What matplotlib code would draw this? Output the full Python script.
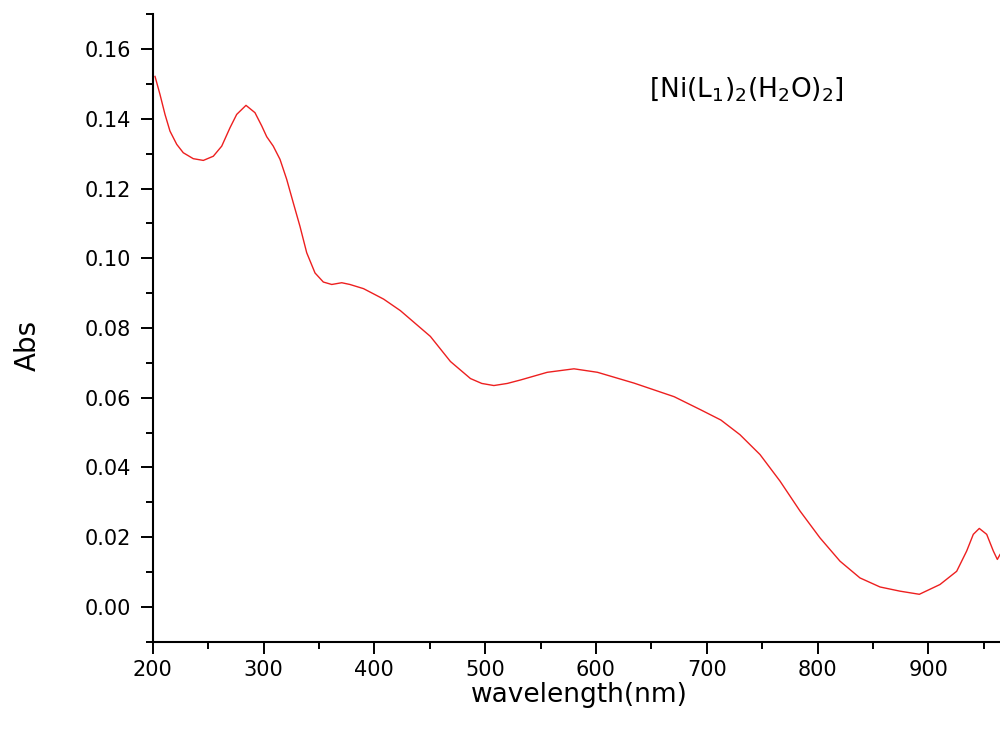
import matplotlib
matplotlib.use("Agg")
import matplotlib.pyplot as plt
from matplotlib.ticker import MultipleLocator

# UV-Vis spectrum
wavelength = [202.1, 206.6, 211.1, 215.6, 221.7, 227.6, 236.6, 245.7, 254.7, 262.3,
              269.8, 275.8, 284.2, 292.3, 298.4, 302.9, 308.8, 314.9, 320.9, 326.9,
              332.9, 339.0, 346.5, 354.0, 361.6, 370.6, 378.0, 390.3, 408.4, 423.5,
              450.6, 468.7, 486.8, 497.0, 507.9, 520.0, 532.0, 556.1, 580.2, 601.4,
              634.4, 670.6, 694.8, 712.8, 730.0, 748.1, 766.1, 784.2, 802.2, 820.3,
              838.3, 856.4, 874.4, 891.9, 910.5, 925.6, 934.6, 940.6, 946.0, 952.7,
              958.7, 962.3, 964.7]
absorb = [0.1522, 0.1470, 0.1413, 0.1365, 0.1327, 0.1303, 0.1286, 0.1281, 0.1293, 0.1322,
          0.1375, 0.1413, 0.1439, 0.1418, 0.1380, 0.1349, 0.1322, 0.1284, 0.1227, 0.1159,
          0.1092, 0.1016, 0.0958, 0.0932, 0.0925, 0.0930, 0.0925, 0.0913, 0.0883, 0.0850,
          0.0776, 0.0704, 0.0655, 0.0641, 0.0635, 0.0641, 0.0651, 0.0673, 0.0683, 0.0673,
          0.0642, 0.0603, 0.0565, 0.0536, 0.0494, 0.0437, 0.0361, 0.0275, 0.0198, 0.0131,
          0.0083, 0.0057, 0.0045, 0.0036, 0.0064, 0.0102, 0.0160, 0.0208, 0.0225, 0.0208,
          0.0160, 0.0136, 0.0150]

label = r"[Ni(L$_1$)$_2$(H$_2$O)$_2$]"

plt.rcParams['font.family'] = ['DejaVu Sans']
plt.rcParams['mathtext.default'] = 'regular'

fig = plt.figure(figsize=(10, 7.42), dpi=100)
ax = fig.add_axes([0.1527, 0.1352, 0.8473, 0.8454])

ax.plot(wavelength, absorb, color=(0.93, 0.12, 0.12), linewidth=1.0)

ax.set_xlim(200, 964.7)
ax.set_ylim(-0.01, 0.17)
ax.xaxis.set_major_locator(MultipleLocator(100))
ax.xaxis.set_minor_locator(MultipleLocator(50))
ax.yaxis.set_minor_locator(MultipleLocator(0.01))
ax.set_yticks([0.0, 0.02, 0.04, 0.06, 0.08, 0.10, 0.12, 0.14, 0.16])
ax.set_yticklabels(["0.00", "0.02", "0.04", "0.06", "0.08", "0.10", "0.12", "0.14", "0.16"])

for s in ['top', 'right']:
    ax.spines[s].set_visible(False)
for s in ['left', 'bottom']:
    ax.spines[s].set_linewidth(1.5)

ax.tick_params(which='major', direction='out', length=8.5, width=1.4, labelsize=15)
ax.tick_params(axis='y', which='major', pad=7)
ax.tick_params(axis='x', which='major', pad=5)
ax.tick_params(which='minor', direction='out', length=5, width=1.4)

ax.set_xlabel("wavelength(nm)", fontsize=19)
ax.xaxis.label.set_va('center')
ax.xaxis.set_label_coords(0.503, -0.085)

ax.set_ylabel("Abs", fontsize=20)
ax.yaxis.label.set_va('center')
ax.yaxis.set_label_coords(-0.147, 0.473)

ax.text(648, 0.1465, label, fontsize=19, ha='left', va='baseline')

fig.savefig("out.png", dpi=100)
